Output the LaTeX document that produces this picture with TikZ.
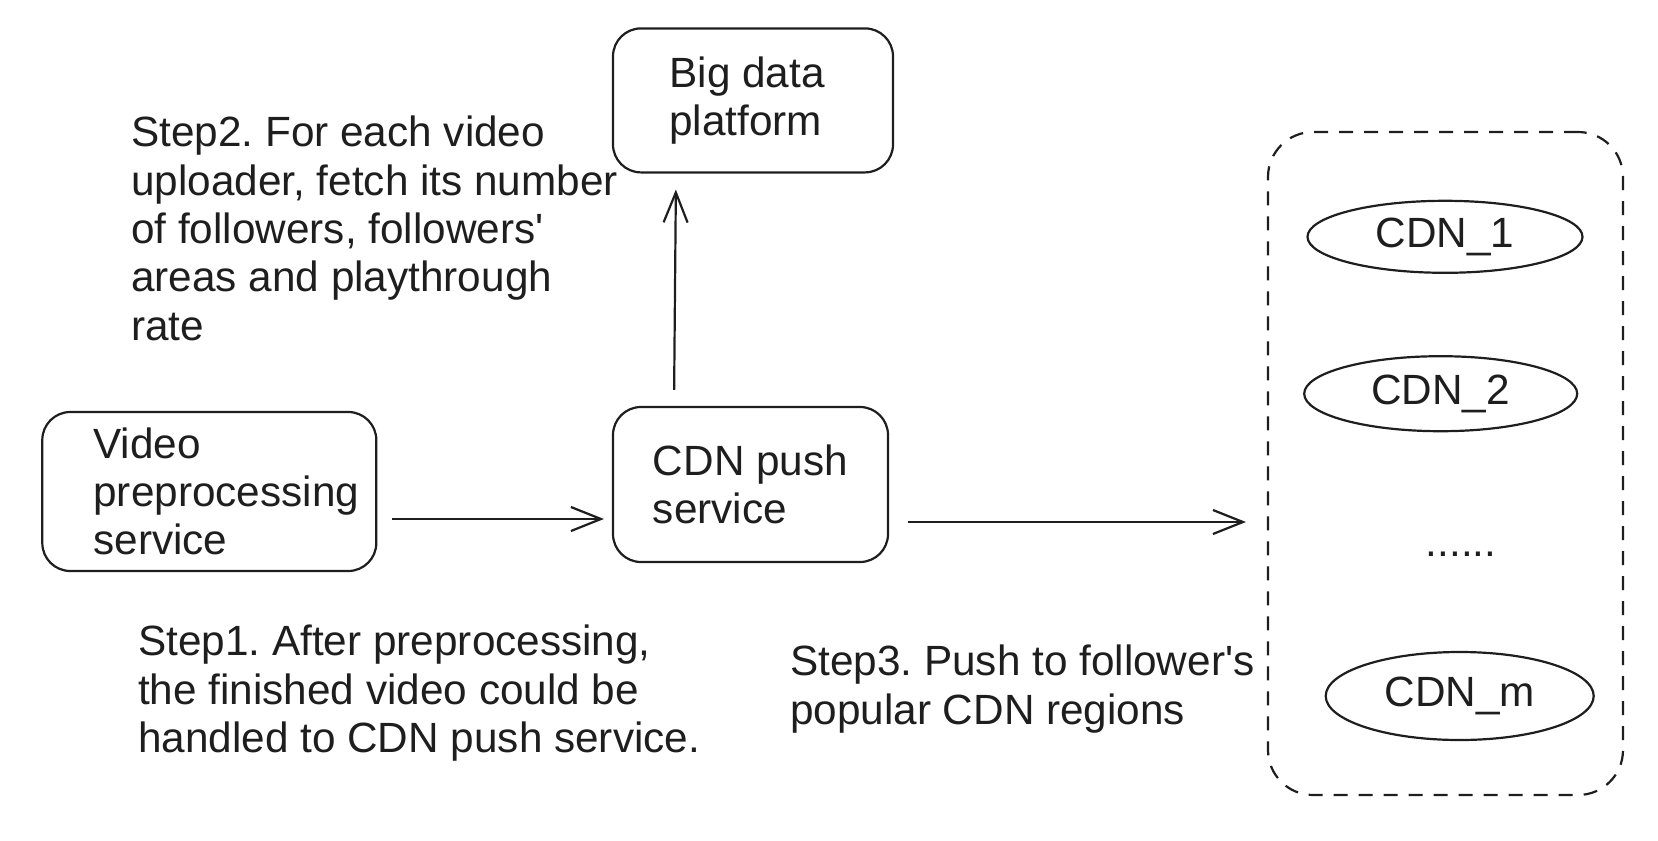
\documentclass[tikz,border=0pt]{standalone}
\usepackage{fontspec}
\setmainfont{Liberation Sans}
\usetikzlibrary{arrows.meta,shapes.geometric}
\definecolor{ink}{HTML}{1E1E1E}
\frenchspacing
\begin{document}
\begin{tikzpicture}[x=1pt,y=-1pt,
  every node/.style={text=ink},
  txt/.style={font=\fontsize{42.3pt}{48.3pt}\selectfont, align=left, inner sep=0pt},
  boxnode/.style={draw=ink, line width=2.2pt, rounded corners=28pt, inner sep=0pt},
  cdnnode/.style={draw=ink, line width=2.2pt, ellipse, inner sep=0pt,
     font=\fontsize{42.3pt}{48.3pt}\selectfont},
  groupbox/.style={draw=ink, line width=2.2pt, dash pattern=on 14pt off 11pt, rounded corners=45pt, inner sep=0pt},
  conn/.style={draw=ink, line width=2.2pt, -{Straight Barb[length=30pt,width=24pt]}}
]
\useasboundingbox (0,0) rectangle (1658,841);

% boxes
\node[boxnode, minimum width=280pt, minimum height=144pt,
  label={[txt, xshift=-6pt]center:{Big data\\platform}}] (big) at (753,100.4) {};
\node[boxnode, minimum width=275pt, minimum height=155pt,
  label={[txt]center:{CDN push\\service}}] (push) at (750.5,484.5) {};
\node[boxnode, minimum width=334pt, minimum height=159pt,
  label={[txt, xshift=17pt]center:{Video\\preprocessing\\service}}] (video) at (209.3,491.5) {};

% CDN group
\node[groupbox, minimum width=355pt, minimum height=663pt] (cdns) at (1445.5,463.5) {};
\node[cdnnode, minimum width=275pt, minimum height=72pt] (cdn1) at (1445,236.8) {CDN\_1};
\node[cdnnode, minimum width=273pt, minimum height=75pt] (cdn2) at (1440.7,393.7) {CDN\_2};
\node[txt, anchor=base] (dots) at (1461,556) {......};
\node[cdnnode, minimum width=268pt, minimum height=88pt] (cdnm) at (1459.7,696) {CDN\_m};

% step texts
\node[txt, anchor=north west] (step2) at (131,116)
  {Step2. For each video\\uploader, fetch its number\\of followers, followers\textquotesingle\\areas and playthrough\\rate};
\node[txt, anchor=north west] (step1) at (138,625)
  {Step1. After preprocessing,\\the finished video could be\\handled to CDN push service.};
\node[txt, anchor=north west] (step3) at (790,645)
  {Step3. Push to follower\textquotesingle s\\popular CDN regions};

% connectors
\draw[conn, shorten <=15pt, shorten >=8pt] ([yshift=-27.5pt]video.east) -- ([yshift=-34.5pt]push.west);
\draw[conn, shorten <=19pt, shorten >=21pt] ([yshift=-37.5pt]push.east) -- ([yshift=-58.5pt]cdns.west);
\draw[conn, shorten <=16pt, shorten >=16pt] ([xshift=-76.5pt]push.north) -- ([xshift=-77pt]big.south);
\end{tikzpicture}
\end{document}
